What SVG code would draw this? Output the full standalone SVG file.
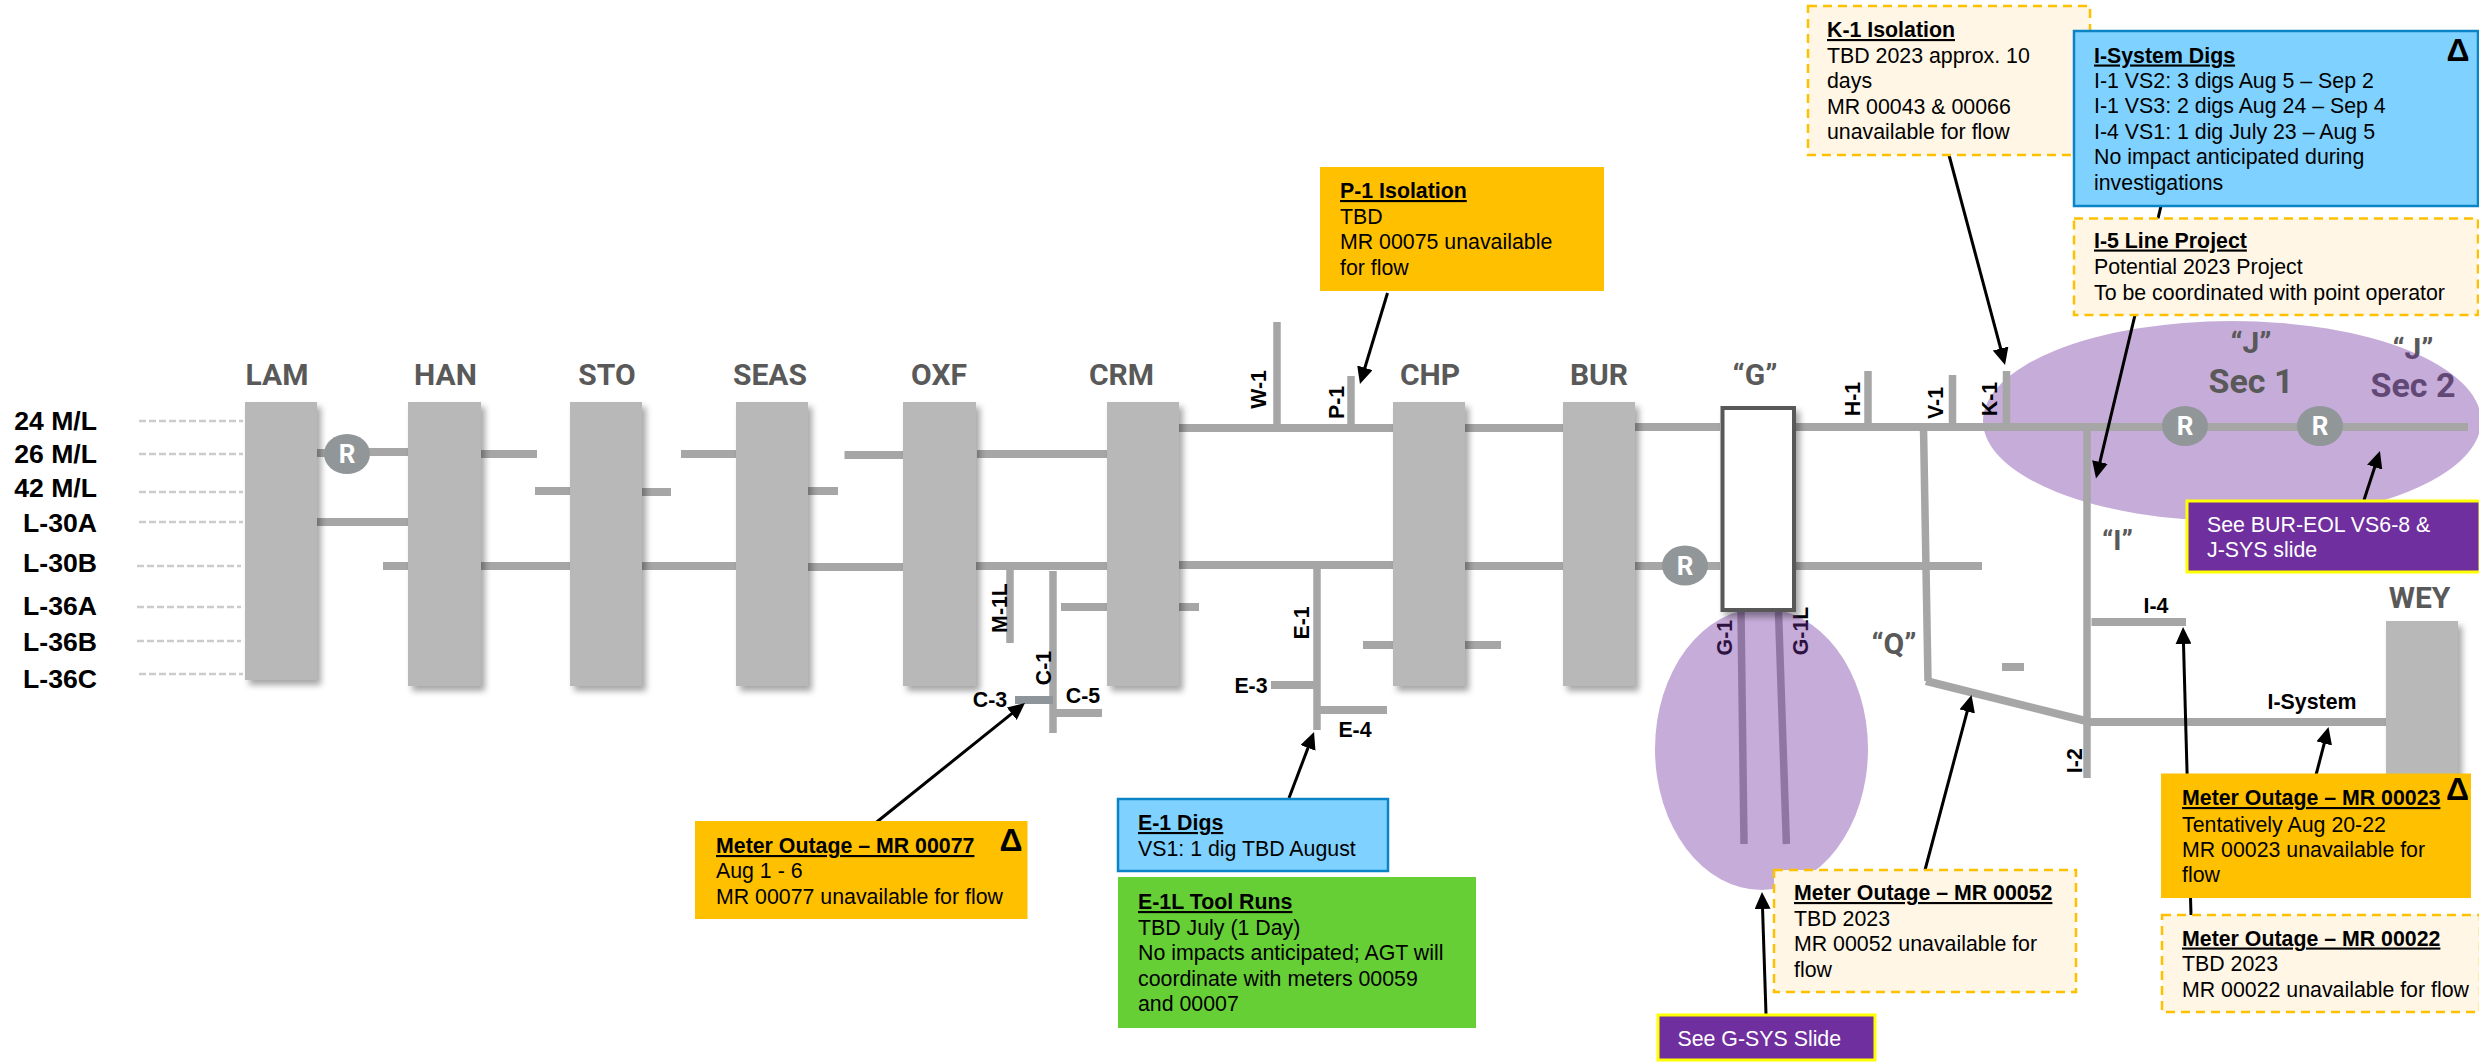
<svg xmlns="http://www.w3.org/2000/svg" width="2479" height="1062" viewBox="0 0 2479 1062">
<style>
text{font-family:"Liberation Sans",Arial,sans-serif;fill:#000}
.st{fill:#b8b8b8;filter:url(#sh)}
.nm{font-family:Roboto,"Liberation Sans",sans-serif;font-weight:700;font-size:30px;fill:#595959;text-anchor:middle}
.sc{font-size:34px}
.ln{font-weight:700;font-size:26.6px;text-anchor:end}
.d{stroke:#ccc;stroke-width:2.5;stroke-dasharray:7 3;fill:none}
.p{stroke:#a6a6a6;stroke-width:8;fill:none}
.s{stroke:#a6a6a6;stroke-width:7.5;fill:none}
.a{stroke:#000;stroke-width:3;fill:none;marker-end:url(#ah)}
.lb{font-weight:700;font-size:21.33px;text-anchor:middle}
.c{font-size:21.33px}
.h{font-weight:700;text-decoration:underline}
.w{fill:#fff}
.dl{font-weight:700;font-size:32px;text-anchor:middle}
.or{fill:#ffc000}
.bl{fill:#7fd2ff;stroke:#0a84c6;stroke-width:2.5}
.cr{fill:#fff6e5;stroke:#ffc000;stroke-width:2.5;stroke-dasharray:9 6}
.pu{fill:#702f9e;stroke:#ffff00;stroke-width:3}
.rc{fill:#919699}
.rt{font-family:Roboto,"Liberation Sans",sans-serif;font-weight:700;font-size:26px;fill:#fff;text-anchor:middle}
.el{fill:#7030a0;fill-opacity:.4}
</style>
<defs>
<filter id="sh" x="-20%" y="-10%" width="150%" height="120%"><feDropShadow dx="4" dy="5" stdDeviation="3" flood-color="#000" flood-opacity=".35"/></filter>
<marker id="ah" markerUnits="userSpaceOnUse" markerWidth="18" markerHeight="16" viewBox="0 0 18 16" refX="11" refY="8" orient="auto"><path d="M0 0L17 8L0 16Z" fill="#000"/></marker>
</defs>

<g id="line-labels">
<text class="ln" x="97" y="430">24 M/L</text>
<text class="ln" x="97" y="463">26 M/L</text>
<text class="ln" x="97" y="497">42 M/L</text>
<text class="ln" x="97" y="532">L-30A</text>
<text class="ln" x="97" y="572">L-30B</text>
<text class="ln" x="97" y="615">L-36A</text>
<text class="ln" x="97" y="651">L-36B</text>
<text class="ln" x="97" y="688">L-36C</text>
<path class="d" d="M139 421H243M139 454H243M139 492H243M139 522H243M137 566H241M137 607H241M137 641H241M139 674H243"/>
</g>

<g id="sec-labels-under">
<text class="nm" x="2413" y="359">“J”</text>
<text class="nm sc" x="2413" y="397">Sec 2</text>
</g>

<g id="j-area"><ellipse class="el" cx="2232" cy="421" rx="249" ry="100"/></g>
<g id="sec1-labels">
<text class="nm" x="2251" y="353">“J”</text>
<text class="nm sc" x="2251" y="393">Sec 1</text>
</g>

<g id="g-branches">
<path class="s" d="M1741 612L1744 844M1778.5 612L1786.4 844"/>
<text class="lb" transform="translate(1732,637.6) rotate(-90)">G-1</text>
<text class="lb" transform="translate(1807.5,631) rotate(-90)">G-1L</text>
</g>
<g id="g-area"><ellipse class="el" cx="1761.5" cy="749" rx="106.5" ry="141"/></g>

<g id="pipelines">
<path class="p" d="M317 453H347M347 452H408M481 454H537M535 491H570M642 492H671M681 454H736M808 491H838M844.5 455H903M977 454H1107"/>
<path class="p" d="M317 522H408M383 566H408M481 566H570M642 566H736M808 567H903M976 566H1107M1179 565H1393M1465 566H1563M1635 566H1720M1796 566H1982"/>
<path class="p" d="M1179 428H1393M1465 428H1563M1635 427H1720M1796 427H2468"/>
<path class="p" d="M1061 607H1107M1179 607H1199M1363 645H1393M1465 645H1501"/>
<path class="s" d="M1277 322V428M1351 376V428M1868 371V427M1952.5 375V427M2006.5 371V427"/>
<path class="s" d="M1010 565V643M1053 571V733M1317 565V730"/>
<path class="p" d="M1053 713H1102M1271 685H1317M1317 710H1387"/>
<path class="p" style="stroke:#8f969b" d="M1015 700H1053"/>
<path class="s" d="M1923.5 427L1928 681"/>
<path class="p" d="M1926 681L2088 721.5"/>
<path class="s" d="M2087 427V778"/>
<path class="p" d="M2088 722H2386M2091.5 622H2186M2002 667H2024"/>
</g>

<g id="branch-labels">
<text class="lb" transform="translate(1266,389.5) rotate(-90)">W-1</text>
<text class="lb" transform="translate(1344,402.5) rotate(-90)">P-1</text>
<text class="lb" transform="translate(1860,399) rotate(-90)">H-1</text>
<text class="lb" transform="translate(1943,403) rotate(-90)">V-1</text>
<text class="lb" transform="translate(1997,399) rotate(-90)">K-1</text>
<text class="lb" transform="translate(1007,608) rotate(-90)">M-1L</text>
<text class="lb" transform="translate(1051,668) rotate(-90)">C-1</text>
<text class="lb" transform="translate(1308.5,623) rotate(-90)">E-1</text>
<text class="lb" transform="translate(2082,760.7) rotate(-90)">I-2</text>
<text class="lb" x="990" y="707">C-3</text>
<text class="lb" x="1083" y="703">C-5</text>
<text class="lb" x="1251" y="693">E-3</text>
<text class="lb" x="1355" y="737">E-4</text>
<text class="lb" x="2156" y="613">I-4</text>
<text class="lb" x="2312" y="709">I-System</text>
<text class="nm" x="2117.5" y="550" style="font-size:28px">“I”</text>
<text class="nm" x="1894" y="654">“Q”</text>
</g>

<g id="st-LAM"><rect class="st" x="245" y="402" width="72" height="278"/><text class="nm" x="277" y="385">LAM</text></g>
<g id="st-HAN"><rect class="st" x="408" y="402" width="73" height="284"/><text class="nm" x="445.5" y="385">HAN</text></g>
<g id="st-STO"><rect class="st" x="570" y="402" width="72" height="284"/><text class="nm" x="607" y="385">STO</text></g>
<g id="st-SEAS"><rect class="st" x="736" y="402" width="72" height="284"/><text class="nm" x="770" y="385">SEAS</text></g>
<g id="st-OXF"><rect class="st" x="903" y="402" width="73" height="284"/><text class="nm" x="939" y="385">OXF</text></g>
<g id="st-CRM"><rect class="st" x="1107" y="402" width="72" height="284"/><text class="nm" x="1121.5" y="385">CRM</text></g>
<g id="st-CHP"><rect class="st" x="1393" y="402" width="72" height="284"/><text class="nm" x="1430" y="385">CHP</text></g>
<g id="st-BUR"><rect class="st" x="1563" y="402" width="72" height="284"/><text class="nm" x="1599" y="385">BUR</text></g>
<g id="st-G"><rect x="1722.5" y="408" width="71.5" height="202" fill="#fff" stroke="#595959" stroke-width="4" filter="url(#sh)"/><text class="nm" x="1755" y="385">“G”</text></g>
<g id="st-WEY"><rect class="st" x="2386" y="621" width="72" height="170"/><text class="nm" x="2419.5" y="607.5">WEY</text></g>

<g id="reg-1"><ellipse class="rc" cx="347" cy="454" rx="23" ry="20"/><text class="rt" x="347" y="463">R</text></g>
<g id="reg-2"><ellipse class="rc" cx="1685" cy="565.6" rx="23" ry="20"/><text class="rt" x="1685" y="574.5">R</text></g>
<g id="reg-3"><ellipse class="rc" cx="2185" cy="426" rx="23" ry="20"/><text class="rt" x="2185" y="435">R</text></g>
<g id="reg-4"><ellipse class="rc" cx="2320" cy="426" rx="23" ry="20"/><text class="rt" x="2320" y="435">R</text></g>

<g id="connectors">
<path class="a" d="M1387.5 293L1361.7 378.3"/>
<path class="a" d="M1289 798L1311.9 737.6"/>
<path class="a" d="M875.5 823L1020.3 706.8"/>
<path class="a" d="M1949 155L2003.5 359.2"/>
<path class="a" d="M2161 206L2097.4 472.7"/>
<path class="a" d="M2364 500L2378.1 456.7"/>
<path class="a" d="M1925 870L1970 700.8"/>
<path class="a" d="M1766 1014L1762.2 898"/>
<path class="a" d="M2191 915L2183.2 633"/>
<path class="a" d="M2316 775L2327 732.8"/>
</g>

<g id="n-p1"><rect class="or" x="1320" y="167" width="284" height="124"/>
<text class="c"><tspan class="h" x="1340" y="198">P-1 Isolation</tspan><tspan x="1340" y="224">TBD</tspan><tspan x="1340" y="249">MR 00075 unavailable</tspan><tspan x="1340" y="275">for flow</tspan></text></g>

<g id="n-k1"><rect class="cr" x="1808" y="6" width="282" height="149"/>
<text class="c"><tspan class="h" x="1827" y="37">K-1 Isolation</tspan><tspan x="1827" y="63">TBD 2023 approx. 10</tspan><tspan x="1827" y="88">days</tspan><tspan x="1827" y="114">MR 00043 &amp; 00066</tspan><tspan x="1827" y="139">unavailable for flow</tspan></text></g>

<g id="n-isys"><rect class="bl" x="2074" y="31" width="404" height="175"/>
<text class="c"><tspan class="h" x="2094" y="62.5">I-System Digs</tspan><tspan x="2094" y="87.5">I-1 VS2: 3 digs Aug 5 – Sep 2</tspan><tspan x="2094" y="113">I-1 VS3: 2 digs Aug 24 – Sep 4</tspan><tspan x="2094" y="139">I-4 VS1: 1 dig July 23 – Aug 5</tspan><tspan x="2094" y="164">No impact anticipated during</tspan><tspan x="2094" y="190">investigations</tspan></text>
<text class="dl" x="2458" y="61">Δ</text></g>

<g id="n-i5"><rect class="cr" x="2074" y="218.5" width="404" height="96.5"/>
<text class="c"><tspan class="h" x="2094" y="247.5">I-5 Line Project</tspan><tspan x="2094" y="274">Potential 2023 Project</tspan><tspan x="2094" y="300">To be coordinated with point operator</tspan></text></g>

<g id="n-bur"><rect class="pu" x="2187" y="501" width="293" height="71"/>
<text class="c"><tspan class="w" x="2207" y="532">See BUR-EOL VS6-8 &amp;</tspan><tspan class="w" x="2207" y="557">J-SYS slide</tspan></text></g>

<g id="n-m77"><rect class="or" x="695" y="821" width="332.5" height="98"/>
<text class="c"><tspan class="h" x="716" y="853">Meter Outage – MR 00077</tspan><tspan x="716" y="878">Aug 1 - 6</tspan><tspan x="716" y="904">MR 00077 unavailable for flow</tspan></text>
<text class="dl" x="1011" y="851">Δ</text></g>

<g id="n-e1"><rect class="bl" x="1118" y="799" width="270" height="72"/>
<text class="c"><tspan class="h" x="1138" y="830">E-1 Digs</tspan><tspan x="1138" y="856">VS1: 1 dig TBD August</tspan></text></g>

<g id="n-e1l"><rect fill="#66cf36" x="1118" y="877" width="358" height="151"/>
<text class="c"><tspan class="h" x="1138" y="909">E-1L Tool Runs</tspan><tspan x="1138" y="935">TBD July (1 Day)</tspan><tspan x="1138" y="960">No impacts anticipated; AGT will</tspan><tspan x="1138" y="986">coordinate with meters 00059</tspan><tspan x="1138" y="1011">and 00007</tspan></text></g>

<g id="n-m52"><rect class="cr" x="1774" y="870" width="302" height="122"/>
<text class="c"><tspan class="h" x="1794" y="900">Meter Outage – MR 00052</tspan><tspan x="1794" y="926">TBD 2023</tspan><tspan x="1794" y="951">MR 00052 unavailable for</tspan><tspan x="1794" y="977">flow</tspan></text></g>

<g id="n-gsys"><rect class="pu" x="1658" y="1015" width="217" height="45"/>
<text class="c"><tspan class="w" x="1677.5" y="1046">See G-SYS Slide</tspan></text></g>

<g id="n-m23"><rect class="or" x="2161" y="773.5" width="310" height="124.5"/>
<text class="c"><tspan class="h" x="2182" y="805">Meter Outage – MR 00023</tspan><tspan x="2182" y="831.5">Tentatively Aug 20-22</tspan><tspan x="2182" y="856.6">MR 00023 unavailable for</tspan><tspan x="2182" y="882">flow</tspan></text>
<text class="dl" x="2457.5" y="800">Δ</text></g>

<g id="n-m22"><rect class="cr" x="2162" y="915" width="318" height="97"/>
<text class="c"><tspan class="h" x="2182" y="945.5">Meter Outage – MR 00022</tspan><tspan x="2182" y="971">TBD 2023</tspan><tspan x="2182" y="997">MR 00022 unavailable for flow</tspan></text></g>
</svg>
